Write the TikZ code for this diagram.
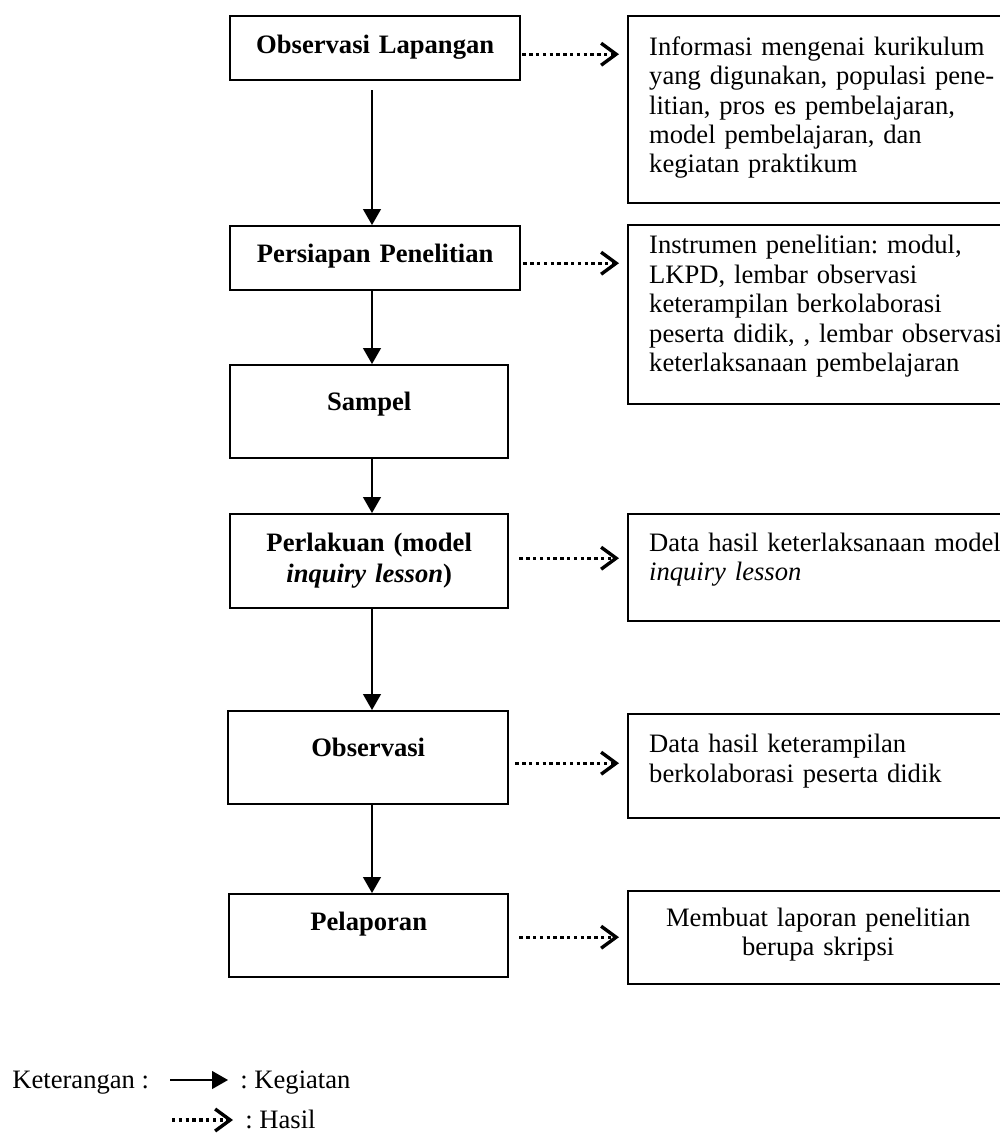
\documentclass[tikz,border=0pt]{standalone}
\usepackage{fontspec}
\setmainfont{Liberation Serif}
\usetikzlibrary{arrows.meta}
\frenchspacing

\begin{document}
\begin{tikzpicture}[%
		x=0.5pt,
		y=-0.5pt,
		font=\fontsize{13.3}{14.7}\selectfont,
		kotak/.style={%
			draw,
			line width=1.2pt,
			anchor=north west,
			inner sep=0pt,
			align=center,
			font=\fontsize{13.3}{14.7}\selectfont\bfseries,
			execute at begin node={\setlength{\baselineskip}{14.7pt}}
		},
		hasilkotak/.style={%
			draw,
			line width=1.2pt,
			anchor=north west,
			inner xsep=10.5pt,
			inner ysep=0pt,
			text width=178pt,
			align=left,
			execute at begin node={\setlength{\baselineskip}{14.7pt}}
		},
		kegiatan/.style={%
			-{Triangle[length=8pt,width=9pt]},
			line width=0.6pt
		},
		hasil/.style={%
			-{Straight Barb[length=7.5pt,width=11pt]},
			line width=1.7pt,
			dash pattern=on 1.7pt off 1.7pt
		}
		]
		\useasboundingbox (0,0) rectangle (1000,1137);
		
		\node[kotak, text width=145pt, text height=18.85pt, text depth=13.15pt] (obslap)    at (229,15)  {Observasi Lapangan};
		\node[kotak, text width=145pt, text height=18.35pt, text depth=13.65pt] (persiapan) at (229,225) {Persiapan Penelitian};
		\node[kotak, text width=139pt, text height=22.5pt, text depth=24pt]     (sampel)    at (229,364) {Sampel};
		\node[kotak, text width=139pt, text height=18.5pt, text depth=28.5pt]   (perlakuan) at (229,513) {Perlakuan (model\\[1pt]\textit{inquiry lesson})};
		\node[kotak, text width=140pt, text height=22.5pt, text depth=24pt]     (observasi) at (227,710) {Observasi};
		\node[kotak, text width=139.5pt, text height=18pt, text depth=23.5pt]   (pelaporan) at (228,893) {Pelaporan};
		
		\node[hasilkotak, text height=19.5pt, text depth=74pt]     (infolap)     at (627,15)  {Informasi mengenai kurikulum\\yang digunakan, populasi pene-\\litian, pros es pembelajaran,\\model pembelajaran, dan\\kegiatan praktikum};
		\node[hasilkotak, text height=14.35pt, text depth=75.15pt] (instrumen)   at (627,224) {Instrumen penelitian: modul,\\LKPD, lembar observasi\\keterampilan berkolaborasi\\peserta didik, , lembar observasi\\keterlaksanaan pembelajaran};
		\node[hasilkotak, text height=18.5pt, text depth=35pt]     (datalaksana) at (627,513) {Data hasil keterlaksanaan model\\\textit{inquiry lesson}};
		\node[hasilkotak, text height=19.35pt, text depth=32.65pt] (datakolab)   at (627,713) {Data hasil keterampilan\\berkolaborasi peserta didik};
		\node[hasilkotak, text width=169pt, align=center, text height=17.5pt, text depth=29pt] (laporan) at (627,890) {Membuat laporan penelitian\\berupa skripsi};
		
		\coordinate (spine) at (372,0);
		\path (obslap.south -| spine)    edge[kegiatan, shorten <=4.5pt] (persiapan.north -| spine)
		(persiapan.south -| spine)       edge[kegiatan]                   (sampel.north -| spine)
		(sampel.south -| spine)          edge[kegiatan]                   (perlakuan.north -| spine)
		(perlakuan.south -| spine)       edge[kegiatan]                   (observasi.north -| spine)
		(observasi.south -| spine)       edge[kegiatan]                   (pelaporan.north -| spine);
		
		\foreach \kiri/\kanan/\dy/\pangkal in {obslap/infolap/-3pt/0.5pt, persiapan/instrumen/-2.5pt/1pt, perlakuan/datalaksana/1.5pt/5pt, observasi/datakolab/-2.75pt/3pt, pelaporan/laporan/-0.75pt/5pt}
		\draw[hasil, shorten <=\pangkal, shorten >=4pt] ([yshift=\dy]\kiri.east) coordinate (p) -- (p -| \kanan.west);
		
		% keterangan
		\node[anchor=base west, inner sep=0pt] (ket)    at (12,1088)  {Keterangan :};
		\node[anchor=base west, inner sep=0pt] (ketkeg) at (240,1088) {: Kegiatan};
		\node[anchor=base west, inner sep=0pt] (kethas) at (245,1128) {: Hasil};
		\coordinate (kegA) at (170,1080);
		\coordinate (hasA) at (172,1120);
		\draw[kegiatan, shorten >=6pt] (kegA) -- (kegA -| ketkeg.west);
		\draw[hasil, shorten >=6pt] (hasA) -- (hasA -| kethas.west);
\end{tikzpicture}
\end{document}
